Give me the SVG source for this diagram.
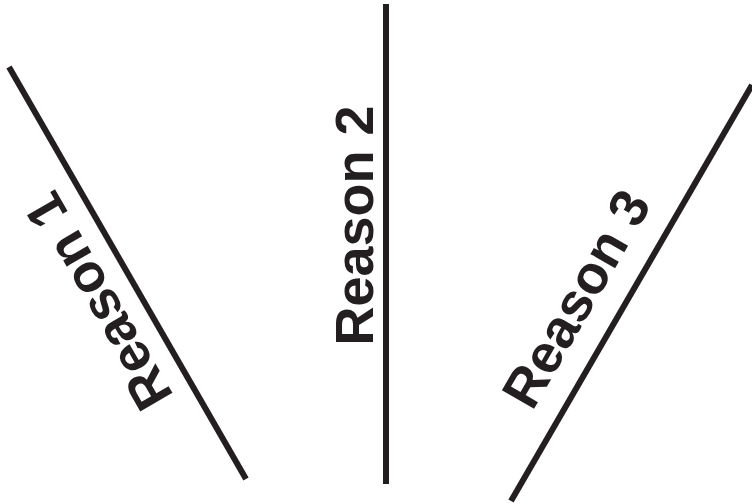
<svg xmlns="http://www.w3.org/2000/svg" width="752" height="504" viewBox="0 0 752 504">
<style>
.ln{stroke:#231f20;stroke-width:6;fill:none;stroke-linecap:butt}
.lb{font-family:"Liberation Sans",Arial,sans-serif;font-weight:bold;font-size:54px;fill:#231f20;text-anchor:middle}
</style>
<rect width="752" height="504" fill="#fff"/>
<g id="connectors">
<line class="ln" x1="9" y1="67" x2="246" y2="479"/>
<line class="ln" x1="386" y1="4" x2="386" y2="484"/>
<line class="ln" x1="511" y1="501" x2="752" y2="85"/>
</g>
<g id="reason1"><text class="lb" transform="translate(97,302) rotate(-120)" y="20">Reason 1</text></g>
<g id="reason2"><text class="lb" transform="translate(352.5,225.5) rotate(-90)" y="20">Reason 2</text></g>
<g id="reason3"><text class="lb" transform="translate(575,298) rotate(-60)" y="20">Reason 3</text></g>
</svg>
